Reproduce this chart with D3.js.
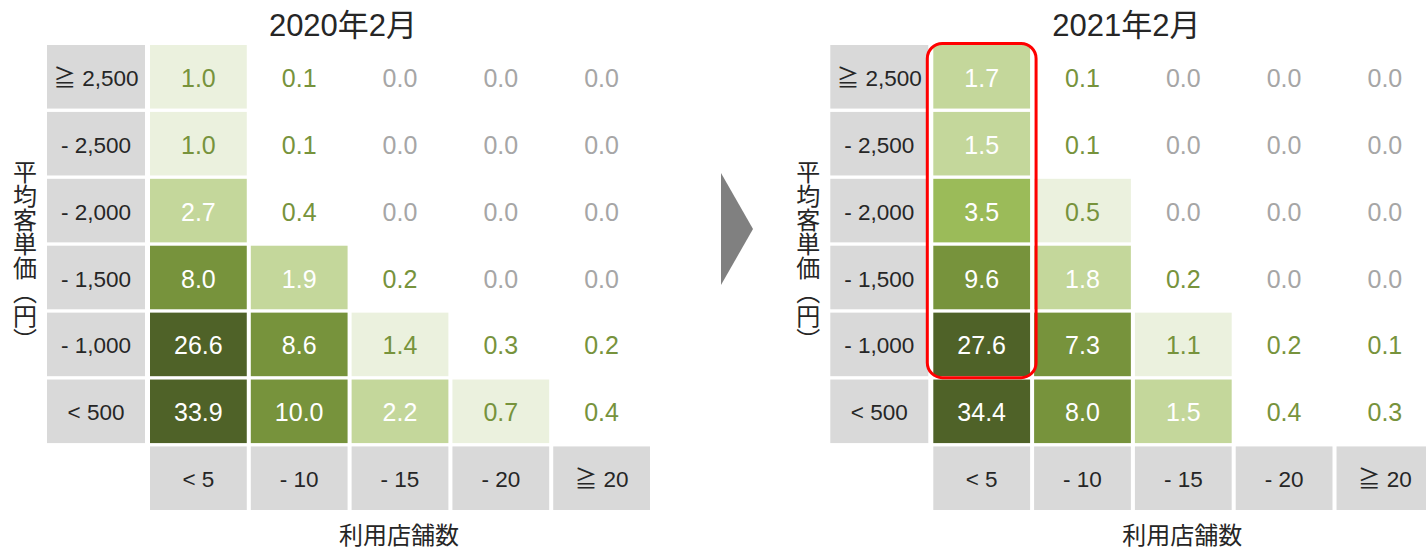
<!DOCTYPE html>
<html>
<head>
<meta charset="utf-8">
<script src="https://cdn.jsdelivr.net/npm/d3@7"></script>
<style>
  body { margin: 0; background: #fff; }
  svg { display: block; font-family: "Liberation Sans", Arial, "Noto Sans CJK JP", sans-serif; }
</style>
</head>
<body>
<svg id="chart" width="1426" height="549"></svg>
<script>
// row / column categories
const rowLabels = ["≧ 2,500", "- 2,500", "- 2,000", "- 1,500", "- 1,000", "< 500"];
const colLabels = ["< 5", "- 10", "- 15", "- 20", "≧ 20"];

// share (%) per cell, rows top to bottom, cols left to right
const values2020 = [
  [1.0, 0.1, 0.0, 0.0, 0.0],
  [1.0, 0.1, 0.0, 0.0, 0.0],
  [2.7, 0.4, 0.0, 0.0, 0.0],
  [8.0, 1.9, 0.2, 0.0, 0.0],
  [26.6, 8.6, 1.4, 0.3, 0.2],
  [33.9, 10.0, 2.2, 0.7, 0.4]
];
const values2021 = [
  [1.7, 0.1, 0.0, 0.0, 0.0],
  [1.5, 0.1, 0.0, 0.0, 0.0],
  [3.5, 0.5, 0.0, 0.0, 0.0],
  [9.6, 1.8, 0.2, 0.0, 0.0],
  [27.6, 7.3, 1.1, 0.2, 0.1],
  [34.4, 8.0, 1.5, 0.4, 0.3]
];
const titles = ["2020年2月", "2021年2月"];
const yTitle = "平均客単価（円）";
const xTitle = "利用店舗数";

const svg = d3.select("#chart");

// colour steps
const fillScale = d3.scaleThreshold()
  .domain([0.5, 1.5, 3, 5, 20])
  .range(["#ffffff", "#ebf1de", "#c4d79b", "#9bbb59", "#77933c", "#4f6228"]);

function textColor(v) {
  if (v === 0) return "#a6a6a6";
  if (v < 1.5) return "#77933c";
  return "#ffffff";
}

// rows incl. the column-label row at the bottom
const yScale = d3.scaleBand()
  .domain(rowLabels.concat(["__cols"]))
  .range([45, 510])
  .paddingInner(0.05);

function drawPanel(values, title, x0, highlight) {
  const g = svg.append("g");

  const xScale = d3.scaleBand()
    .domain(colLabels)
    .range([x0, x0 + 500])
    .paddingInner(0.04);

  // row label boxes
  const rl = g.selectAll(".rowlab").data(rowLabels).enter().append("g");
  rl.append("rect")
    .attr("x", x0 - 103)
    .attr("y", d => yScale(d))
    .attr("width", 98)
    .attr("height", yScale.bandwidth())
    .attr("fill", "#d9d9d9");
  rl.append("text")
    .attr("x", x0 - 54)
    .attr("y", d => yScale(d) + yScale.bandwidth() / 2)
    .attr("dy", "0.4em")
    .attr("text-anchor", "middle")
    .attr("font-size", 22.5)
    .attr("fill", "#262626")
    .text(d => d);

  // column label boxes
  const cl = g.selectAll(".collab").data(colLabels).enter().append("g");
  cl.append("rect")
    .attr("x", d => xScale(d))
    .attr("y", yScale("__cols"))
    .attr("width", xScale.bandwidth())
    .attr("height", yScale.bandwidth())
    .attr("fill", "#d9d9d9");
  cl.append("text")
    .attr("x", d => xScale(d) + xScale.bandwidth() / 2)
    .attr("y", yScale("__cols") + yScale.bandwidth() / 2)
    .attr("dy", "0.4em")
    .attr("text-anchor", "middle")
    .attr("font-size", 22.5)
    .attr("fill", "#262626")
    .text(d => d);

  // cells
  const cells = [];
  values.forEach((row, i) => row.forEach((v, j) => cells.push({ r: rowLabels[i], c: colLabels[j], v: v })));

  const cg = g.selectAll(".cell").data(cells).enter().append("g");
  cg.append("rect")
    .attr("x", d => xScale(d.c))
    .attr("y", d => yScale(d.r))
    .attr("width", xScale.bandwidth())
    .attr("height", yScale.bandwidth())
    .attr("fill", d => fillScale(d.v));
  cg.append("text")
    .attr("x", d => xScale(d.c) + xScale.bandwidth() / 2)
    .attr("y", d => yScale(d.r) + yScale.bandwidth() / 2)
    .attr("dy", "0.4em")
    .attr("text-anchor", "middle")
    .attr("font-size", 25)
    .attr("fill", d => textColor(d.v))
    .text(d => d.v.toFixed(1));

  // title
  g.append("text")
    .attr("x", x0 + 193)
    .attr("y", 36)
    .attr("text-anchor", "middle")
    .attr("font-size", 31)
    .attr("fill", "#262626")
    .text(title);

  // axis titles
  g.append("text")
    .attr("x", x0 + 249)
    .attr("y", 535)
    .attr("dy", "0.36em")
    .attr("text-anchor", "middle")
    .attr("font-size", 24)
    .attr("fill", "#262626")
    .text(xTitle);

  g.append("text")
    .attr("x", x0 - 127)
    .attr("y", 256)
    .attr("text-anchor", "middle")
    .style("writing-mode", "vertical-rl")
    .attr("font-size", 24)
    .attr("fill", "#262626")
    .text(yTitle);

  if (highlight) {
    const top = yScale(rowLabels[0]);
    const bottom = yScale(rowLabels[4]) + yScale.bandwidth();
    g.append("rect")
      .attr("x", xScale(colLabels[0]) - 6)
      .attr("y", top - 1.5)
      .attr("width", xScale.bandwidth() + 12)
      .attr("height", bottom - top + 3)
      .attr("rx", 15)
      .attr("fill", "none")
      .attr("stroke", "#ff0000")
      .attr("stroke-width", 3);
  }
}

drawPanel(values2020, titles[0], 150, false);
drawPanel(values2021, titles[1], 933.3, true);

// arrow between the two panels
svg.append("path")
  .attr("d", "M721,173 L753,229 L721,285 Z")
  .attr("fill", "#808080");
</script>
</body>
</html>
